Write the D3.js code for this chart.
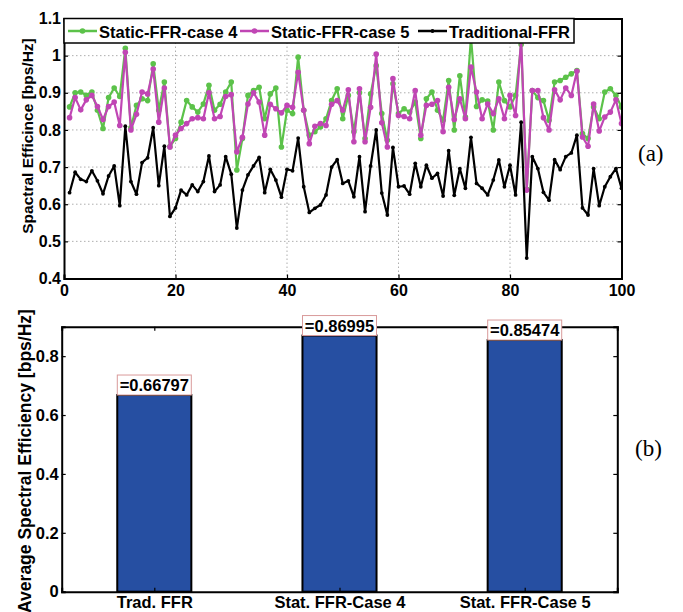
<!DOCTYPE html>
<html><head><meta charset="utf-8">
<script src="https://cdn.jsdelivr.net/npm/d3@7/dist/d3.min.js"></script>
<style>body{margin:0;background:#fff}svg{display:block}</style>
</head><body>
<svg id="c" width="683" height="612"></svg>
<script>
const xIdx = d3.range(1, 101);
const case4 = [0.862,0.900,0.902,0.893,0.902,0.853,0.804,0.887,0.913,0.890,1.020,0.806,0.866,0.884,0.879,0.978,0.853,0.929,0.755,0.777,
0.821,0.879,0.862,0.848,0.870,0.920,0.853,0.869,0.902,0.929,0.692,0.777,0.893,0.906,0.915,0.830,0.897,0.913,0.754,0.853,
0.844,0.996,0.853,0.786,0.795,0.808,0.830,0.879,0.911,0.830,0.893,0.795,0.900,0.777,0.897,0.973,0.844,0.772,0.924,0.844,
0.857,0.848,0.875,0.777,0.884,0.902,0.853,0.826,0.933,0.800,0.946,0.835,1.050,0.863,0.881,0.878,0.800,0.929,0.879,0.862,
0.893,1.030,0.640,0.906,0.887,0.879,0.826,0.929,0.933,0.942,0.951,0.960,0.790,0.777,0.862,0.830,0.902,0.911,0.893,0.862];
const case5 = [0.833,0.887,0.854,0.881,0.893,0.863,0.828,0.863,0.875,0.812,1.009,0.800,0.842,0.902,0.897,0.964,0.821,0.913,0.754,0.786,
0.804,0.817,0.830,0.833,0.830,0.900,0.830,0.836,0.890,0.895,0.741,0.780,0.870,0.900,0.875,0.786,0.869,0.857,0.846,0.866,
0.861,0.955,0.853,0.763,0.810,0.817,0.812,0.869,0.879,0.853,0.908,0.768,0.911,0.768,0.861,1.004,0.819,0.754,0.938,0.839,
0.836,0.830,0.906,0.786,0.866,0.869,0.879,0.795,0.915,0.828,0.884,0.830,0.969,0.902,0.830,0.870,0.844,0.884,0.830,0.893,
0.839,1.045,0.638,0.906,0.906,0.833,0.800,0.908,0.881,0.913,0.893,0.958,0.781,0.756,0.870,0.797,0.835,0.848,0.881,0.817];
const traditional = [0.631,0.686,0.667,0.661,0.690,0.663,0.628,0.676,0.703,0.596,0.810,0.661,0.627,0.712,0.725,0.806,0.650,0.756,0.567,0.590,
0.638,0.625,0.652,0.634,0.661,0.730,0.634,0.652,0.728,0.681,0.536,0.638,0.679,0.703,0.726,0.631,0.694,0.665,0.619,0.694,
0.690,0.778,0.647,0.578,0.589,0.598,0.625,0.700,0.720,0.656,0.663,0.620,0.728,0.580,0.703,0.800,0.630,0.571,0.753,0.647,
0.649,0.627,0.710,0.647,0.705,0.670,0.683,0.622,0.744,0.624,0.696,0.643,0.780,0.656,0.643,0.625,0.665,0.719,0.647,0.705,
0.625,0.821,0.455,0.728,0.696,0.632,0.611,0.720,0.693,0.728,0.738,0.786,0.590,0.571,0.696,0.596,0.647,0.674,0.696,0.643];
const seriesNames = ["Static-FFR-case 4","Static-FFR-case 5","Traditional-FFR"];
const xTicksA = [0,20,40,60,80,100];
const yTicksA = [0.4,0.5,0.6,0.7,0.8,0.9,1,1.1];
const barCats = ["Trad. FFR","Stat. FFR-Case 4","Stat. FFR-Case 5"];
const barVals = [0.66797,0.86995,0.85474];
const barLabels = ["=0.66797","=0.86995","=0.85474"];
const yTicksB = [0,0.2,0.4,0.6,0.8];

const svg = d3.select("#c");
const FONT = "'Liberation Sans', Arial, sans-serif";
const colors = ["#5cc24a","#c046b4","#000000"];

// ---------- Panel (a)
const A = {l:64, r:621.5, t:18.5, b:278.5};
const xa = d3.scaleLinear().domain([0,100]).range([A.l,A.r]);
const ya = d3.scaleLinear().domain([0.4,1.1]).range([A.b,A.t]);
const ga = svg.append("g");
ga.selectAll(".gx").data(xTicksA.slice(1,-1)).join("line")
  .attr("x1",d=>xa(d)).attr("x2",d=>xa(d)).attr("y1",A.t).attr("y2",A.b)
  .attr("stroke","#999").attr("stroke-width",0.8).attr("stroke-dasharray","1.5,2.5");
ga.selectAll(".gy").data(yTicksA.slice(1,-1)).join("line")
  .attr("y1",d=>ya(d)).attr("y2",d=>ya(d)).attr("x1",A.l).attr("x2",A.r)
  .attr("stroke","#999").attr("stroke-width",0.8).attr("stroke-dasharray","1.5,2.5");
svg.append("clipPath").attr("id","clipA").append("rect")
  .attr("x",A.l).attr("y",A.t).attr("width",A.r-A.l).attr("height",A.b-A.t);
const data = [case4, case5, traditional];
const line = d3.line().x((d,i)=>xa(xIdx[i])).y(d=>ya(d));
const gl = ga.append("g").attr("clip-path","url(#clipA)");
data.forEach((s,k)=>{
  gl.append("path").datum(s).attr("d",line).attr("fill","none")
    .attr("stroke",colors[k]).attr("stroke-width",2.2).attr("stroke-linejoin","round");
  gl.selectAll(".m"+k).data(s).join("circle")
    .attr("cx",(d,i)=>xa(xIdx[i])).attr("cy",d=>ya(d))
    .attr("r",k===2?1.9:2.8).attr("fill",colors[k]);
});
const axA = ga.append("g");
axA.append("g").attr("transform",`translate(0,${A.b})`)
  .call(d3.axisBottom(xa).tickValues(xTicksA).tickSize(-4).tickPadding(6).tickFormat(d3.format("d")));
axA.append("g").attr("transform",`translate(0,${A.t})`)
  .call(d3.axisTop(xa).tickValues(xTicksA).tickSize(-4).tickFormat(""));
axA.append("g").attr("transform",`translate(${A.l},0)`)
  .call(d3.axisLeft(ya).tickValues(yTicksA).tickSize(-4).tickPadding(3).tickFormat(d=>d===1?"1":d3.format(".1f")(d)));
axA.append("g").attr("transform",`translate(${A.r},0)`)
  .call(d3.axisRight(ya).tickValues(yTicksA).tickSize(-4).tickFormat(""));
axA.selectAll(".domain").attr("stroke","#000").attr("stroke-width",2);
axA.selectAll(".tick line").attr("stroke","#000").attr("stroke-width",1.2);
axA.selectAll("text").attr("font-family",FONT).attr("font-weight","bold").attr("font-size",16).attr("fill","#000");
// legend
const lg = svg.append("g");
lg.append("rect").attr("x",A.l).attr("y",A.t).attr("width",510).attr("height",24.5)
  .attr("fill","#fff").attr("stroke","#000").attr("stroke-width",1.5);
const legX = [68,240,418];
seriesNames.forEach((n,k)=>{
  const x0 = legX[k];
  lg.append("line").attr("x1",x0).attr("x2",x0+29).attr("y1",31).attr("y2",31)
    .attr("stroke",colors[k]).attr("stroke-width",2.5);
  lg.append("circle").attr("cx",x0+14.5).attr("cy",31).attr("r",k===2?1.9:2.8).attr("fill",colors[k]);
  lg.append("text").attr("x",x0+31).attr("y",37.5).text(n)
    .attr("font-family",FONT).attr("font-weight","bold").attr("font-size",16.5);
});
svg.append("text").attr("transform",`translate(33,136) rotate(-90)`).attr("text-anchor","middle")
  .attr("font-family",FONT).attr("font-weight","bold").attr("font-size",15.5).text("Spactral Efficince [bps/Hz]");
svg.append("text").attr("x",638).attr("y",161).attr("font-family","'Liberation Serif','Times New Roman',serif")
  .attr("font-size",23).text("(a)");

// ---------- Panel (b)
const B = {l:61.7, r:617.3, t:326.7, b:591.7};
const xb = d3.scaleLinear().domain([0.5,3.5]).range([B.l,B.r]);
const yb = d3.scaleLinear().domain([0,0.9]).range([B.b,B.t]);
const gb = svg.append("g");
const bw = xb(1.2)-xb(0.8);
gb.selectAll(".bar").data(barVals).join("rect")
  .attr("x",(d,i)=>xb(i+1)-bw/2).attr("width",bw)
  .attr("y",d=>yb(d)).attr("height",d=>yb(0)-yb(d))
  .attr("fill","#264fa2").attr("stroke","#000").attr("stroke-width",2);
const axB = gb.append("g");
axB.append("g").attr("transform",`translate(0,${B.b})`)
  .call(d3.axisBottom(xb).tickValues([1,2,3]).tickSize(-4).tickPadding(5).tickFormat((d,i)=>barCats[i]));
axB.append("g").attr("transform",`translate(0,${B.t})`)
  .call(d3.axisTop(xb).tickValues([1,2,3]).tickSize(-4).tickFormat(""));
axB.append("g").attr("transform",`translate(${B.l},0)`)
  .call(d3.axisLeft(yb).tickValues(yTicksB).tickSize(-4).tickPadding(3).tickFormat(d=>d===0?"0":d3.format(".1f")(d)));
axB.append("g").attr("transform",`translate(${B.r},0)`)
  .call(d3.axisRight(yb).tickValues(yTicksB).tickSize(-4).tickFormat(""));
axB.selectAll(".domain").attr("stroke","#000").attr("stroke-width",2);
axB.selectAll(".tick line").attr("stroke","#000").attr("stroke-width",1.2);
axB.selectAll("text").attr("font-family",FONT).attr("font-weight","bold").attr("font-size",16.5).attr("fill","#000");
const lb = gb.append("g");
barVals.forEach((v,i)=>{
  const cx = xb(i+1), top = yb(v);
  lb.append("rect").attr("x",cx-37).attr("y",top-20).attr("width",74).attr("height",20)
    .attr("fill","#fff").attr("stroke","#d99a9a").attr("stroke-width",1);
  lb.append("text").attr("x",cx).attr("y",top-4).attr("text-anchor","middle")
    .attr("font-family",FONT).attr("font-weight","bold").attr("font-size",16.5).text(barLabels[i]);
});
svg.append("text").attr("transform",`translate(31,461) rotate(-90)`).attr("text-anchor","middle")
  .attr("font-family",FONT).attr("font-weight","bold").attr("font-size",17.5).text("Average Spectral Efficiency [bps/Hz]");
svg.append("text").attr("x",635).attr("y",456).attr("font-family","'Liberation Serif','Times New Roman',serif")
  .attr("font-size",23).text("(b)");
</script>
</body></html>
